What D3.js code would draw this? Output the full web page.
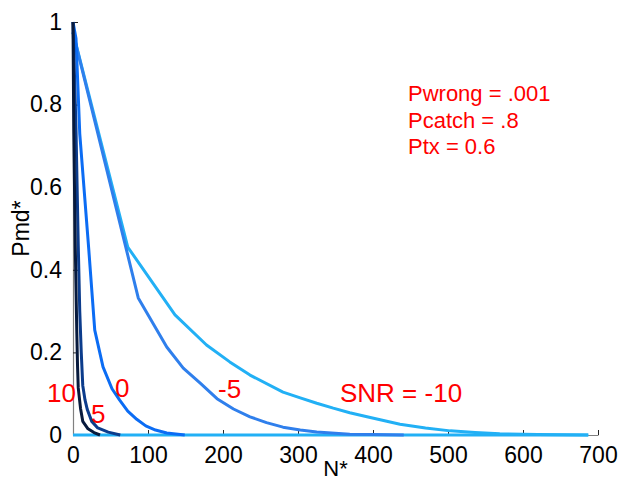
<!DOCTYPE html>
<html>
<head>
<meta charset="utf-8">
<script src="https://cdn.jsdelivr.net/npm/d3@7"></script>
<style>
  html, body { margin: 0; padding: 0; background: #fff; }
  svg { display: block; font-family: "Liberation Sans", Arial, Helvetica, sans-serif; }
</style>
</head>
<body>
<svg id="chart" width="628" height="482"></svg>
<script>
// Miss-detection probability Pmd* versus N* for several SNR levels (dB)
const snrLevels = [-10, -5, 0, 5, 10];
const seriesColors = ["#22b0f5", "#2f7fec", "#0b6cf4", "#0c3c8c", "#071a3d"];

const nSnrM10 = [0, 73, 136, 178, 209, 236, 280, 303, 325, 347, 369, 392, 436, 470, 503, 536, 569, 620, 687];
const pSnrM10 = [0.975, 0.455, 0.291, 0.218, 0.177, 0.145, 0.104, 0.09, 0.077, 0.065, 0.054, 0.044, 0.026, 0.017, 0.010, 0.006, 0.003, 0.001, 0];

const nSnrM5 = [0, 87, 125, 147, 170, 192, 214, 236, 258, 280, 303, 325, 369, 400, 441];
const pSnrM5 = [0.975, 0.332, 0.213, 0.162, 0.125, 0.088, 0.063, 0.044, 0.03, 0.019, 0.012, 0.007, 0.002, 0.001, 0];

const nSnr0 = [0, 4, 9, 21, 29, 40, 52, 62, 73, 85, 97, 110, 125, 149];
const pSnr0 = [1, 0.96, 0.73, 0.45, 0.254, 0.165, 0.112, 0.085, 0.058, 0.038, 0.022, 0.012, 0.005, 0];

const nSnr5 = [0, 4, 7, 9, 11, 13, 16, 19, 25, 33, 47, 63];
const pSnr5 = [1, 0.74, 0.46, 0.3, 0.2, 0.12, 0.085, 0.062, 0.033, 0.017, 0.007, 0];

const nSnr10 = [0, 1, 3, 5, 6, 7, 10, 13, 20, 28, 36];
const pSnr10 = [1, 0.74, 0.46, 0.254, 0.17, 0.114, 0.065, 0.033, 0.015, 0.006, 0];

// zero floor of the SNR = -10 run, spanning its whole N* range
const zeroFloorN = [0, 687];
const zeroFloorP = [0, 0];

const xTicks = [0, 100, 200, 300, 400, 500, 600, 700];
const yTicks = [0, 0.2, 0.4, 0.6, 0.8, 1];
const yTickLabels = ["0", "0.2", "0.4", "0.6", "0.8", "1"];

const paramLines = ["Pwrong = .001", "Pcatch = .8", "Ptx = 0.6"];
const curveLabels = ["SNR = -10", "-5", "0", "5", "10"];

const seriesN = [nSnrM10, nSnrM5, nSnr0, nSnr5, nSnr10];
const seriesP = [pSnrM10, pSnrM5, pSnr0, pSnr5, pSnr10];

const series = snrLevels.map((snr, i) => ({
  snr,
  color: seriesColors[i],
  points: seriesN[i].map((n, j) => ({ n, p: seriesP[i][j] }))
}));
const floorLine = {
  color: seriesColors[0],
  points: zeroFloorN.map((n, j) => ({ n, p: zeroFloorP[j] }))
};

const svg = d3.select("#chart");
const plot = { left: 73, right: 598, top: 22, bottom: 435 };

const x = d3.scaleLinear().domain([0, 700]).range([plot.left, plot.right]);
const y = d3.scaleLinear().domain([0, 1]).range([plot.bottom, plot.top]);

// axes with inward ticks
const xAxis = d3.axisBottom(x).tickValues(xTicks).tickSizeInner(-5).tickSizeOuter(0).tickPadding(12);
const yAxis = d3.axisLeft(y).tickValues(yTicks).tickFormat((d, i) => yTickLabels[i]).tickSizeInner(-5).tickSizeOuter(0).tickPadding(11);

const gx = svg.append("g").attr("transform", `translate(0,${plot.bottom})`).call(xAxis);
const gy = svg.append("g").attr("transform", `translate(${plot.left},0)`).call(yAxis);

[gx, gy].forEach(g => {
  g.select(".domain").attr("stroke", "#808080").attr("stroke-width", 1.2);
  g.selectAll(".tick line").attr("stroke", "#262626").attr("stroke-width", 1);
  g.selectAll(".tick text").attr("fill", "#000").attr("font-size", 23)
    .attr("font-family", "Liberation Sans, Arial, sans-serif");
});
gx.selectAll(".tick text").attr("dy", "0.71em");

// curves, drawn from lowest to highest SNR
const line = d3.line().x(d => x(d.n)).y(d => y(d.p)).curve(d3.curveLinear);
svg.append("g").selectAll("path").data([floorLine, ...series]).join("path")
  .attr("d", d => line(d.points))
  .attr("fill", "none")
  .attr("stroke", d => d.color)
  .attr("stroke-width", 3)
  .attr("stroke-linejoin", "round");

// axis titles
svg.append("text").attr("x", (plot.left + plot.right) / 2).attr("y", 476)
  .attr("text-anchor", "middle").attr("font-size", 22).attr("fill", "#000").text("N*");
svg.append("text").attr("transform", `translate(29,${(plot.top + plot.bottom) / 2}) rotate(-90)`)
  .attr("text-anchor", "middle").attr("font-size", 23).attr("fill", "#000").text("Pmd*");

// parameter annotation
svg.append("g").selectAll("text").data(paramLines).join("text")
  .attr("x", 408).attr("y", (d, i) => 101 + i * 26.5)
  .attr("font-size", 22).attr("fill", "#ff0000").text(d => d);

// SNR labels next to each curve
const labelPos = [[340, 402], [218, 398], [115, 397], [91, 423], [47, 402]];
svg.append("g").selectAll("text").data(curveLabels).join("text")
  .attr("x", (d, i) => labelPos[i][0]).attr("y", (d, i) => labelPos[i][1])
  .attr("font-size", 26).attr("fill", "#ff0000").text(d => d);
</script>
</body>
</html>
